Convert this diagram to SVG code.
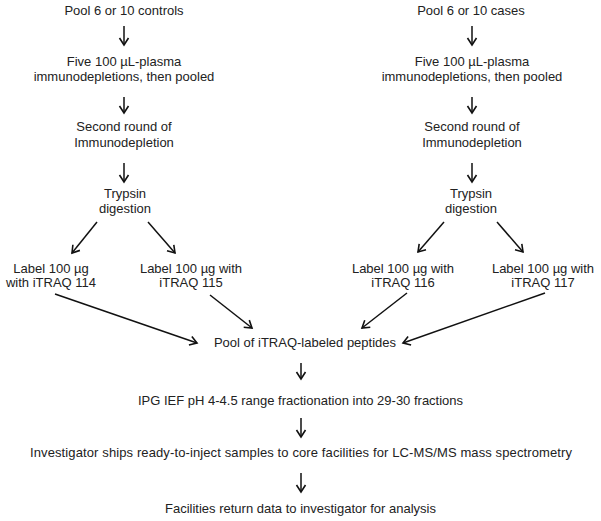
<svg xmlns="http://www.w3.org/2000/svg" width="601" height="521" viewBox="0 0 601 521">
<defs>
<style>
text{font-family:"Liberation Sans",Arial,sans-serif;font-size:13px;fill:#222;text-anchor:middle}
.c line{stroke:#111;stroke-width:1.5;fill:none;marker-end:url(#ah)}
</style>
<marker id="ah" markerUnits="userSpaceOnUse" markerWidth="12" markerHeight="12" viewBox="0 0 12 12" refX="9" refY="6" orient="auto">
<path d="M2,1.5 L9,6 L2,10.5" fill="none" stroke="#111" stroke-width="1.6"/>
</marker>
</defs>
<rect width="601" height="521" fill="#fff"/>
<g id="ctrl-pool"><text x="124" y="15">Pool 6 or 10 controls</text></g>
<g id="ctrl-deplete"><text x="124" y="66">Five 100 µL-plasma</text><text x="124" y="81">immunodepletions, then pooled</text></g>
<g id="ctrl-second"><text x="124" y="131">Second round of</text><text x="124" y="147">Immunodepletion</text></g>
<g id="ctrl-trypsin"><text x="125" y="198">Trypsin</text><text x="125" y="213">digestion</text></g>
<g id="label114"><text x="51" y="272.5">Label 100 µg</text><text x="51" y="287">with iTRAQ 114</text></g>
<g id="label115"><text x="191" y="272.5">Label 100 µg with</text><text x="191" y="287">iTRAQ 115</text></g>
<g id="case-pool"><text x="471" y="15">Pool 6 or 10 cases</text></g>
<g id="case-deplete"><text x="472" y="66">Five 100 µL-plasma</text><text x="472" y="81">immunodepletions, then pooled</text></g>
<g id="case-second"><text x="472" y="131">Second round of</text><text x="472" y="147">Immunodepletion</text></g>
<g id="case-trypsin"><text x="471" y="198">Trypsin</text><text x="471" y="213">digestion</text></g>
<g id="label116"><text x="403" y="272.5">Label 100 µg with</text><text x="403" y="287">iTRAQ 116</text></g>
<g id="label117"><text x="543" y="272.5">Label 100 µg with</text><text x="543" y="287">iTRAQ 117</text></g>
<g id="pool"><text x="305" y="347">Pool of iTRAQ-labeled peptides</text></g>
<g id="ipg"><text x="300.5" y="405">IPG IEF pH 4-4.5 range fractionation into 29-30 fractions</text></g>
<g id="ship"><text x="301" y="457" textLength="542" lengthAdjust="spacing">Investigator ships ready-to-inject samples to core facilities for LC-MS/MS mass spectrometry</text></g>
<g id="return"><text x="300.5" y="513">Facilities return data to investigator for analysis</text></g>
<g id="connectors" class="c">
<line x1="124" y1="26" x2="124" y2="45"/>
<line x1="124" y1="97" x2="124" y2="113"/>
<line x1="124" y1="163" x2="124" y2="182"/>
<line x1="472" y1="26" x2="472" y2="45"/>
<line x1="472" y1="97" x2="472" y2="113"/>
<line x1="472" y1="163" x2="472" y2="182"/>
<line x1="97" y1="222" x2="72" y2="253"/>
<line x1="148" y1="222" x2="175" y2="253"/>
<line x1="444" y1="222" x2="418" y2="252"/>
<line x1="497" y1="222" x2="523" y2="252"/>
<line x1="55" y1="294" x2="197" y2="343"/>
<line x1="210" y1="295" x2="252" y2="328"/>
<line x1="407" y1="293" x2="362" y2="328"/>
<line x1="545" y1="293" x2="403" y2="343"/>
<line x1="301" y1="363" x2="301" y2="379"/>
<line x1="301" y1="418" x2="301" y2="437"/>
<line x1="301" y1="473" x2="301" y2="492"/>
</g>
</svg>
